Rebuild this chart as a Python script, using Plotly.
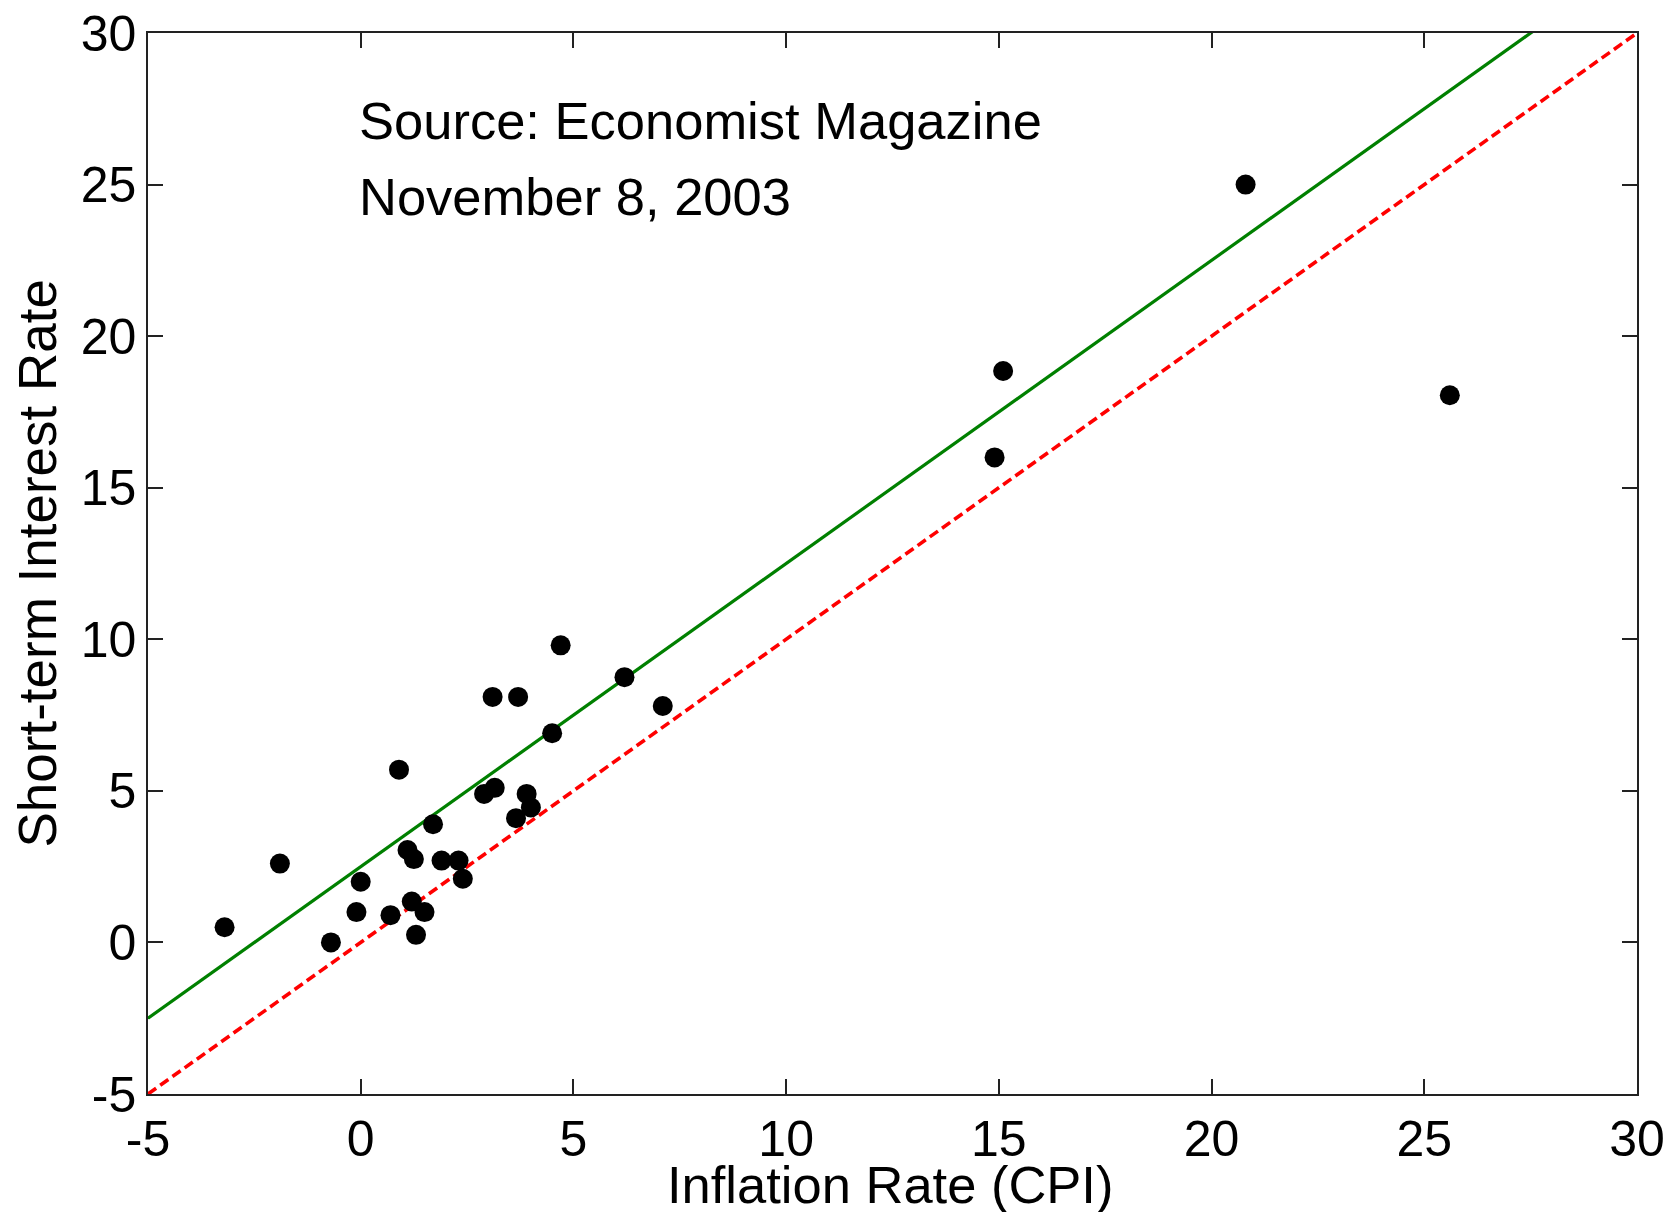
import plotly.graph_objects as go

# Data
inflation = [-3.2, -1.9, -0.7, -0.1, 0.0, 0.7, 0.9, 1.1, 1.25, 1.2, 1.3, 1.5, 1.7, 1.9, 2.3, 2.4,
             2.9, 3.15, 3.1, 3.7, 3.65, 3.9, 4.0, 4.5, 4.7, 6.2, 7.1, 14.9, 15.1, 20.8, 25.6]
interest = [0.5, 2.6, 0.0, 1.0, 2.0, 0.9, 5.7, 3.05, 2.75, 1.35, 0.25, 1.0, 3.9, 2.7, 2.7, 2.1,
            4.9, 5.1, 8.1, 8.1, 4.1, 4.9, 4.45, 6.9, 9.8, 8.75, 7.8, 16.0, 18.85, 25.0, 18.05]

line_x = [-5, 30]
fit_y = [-2.5, 32.5]      # fitted line, y = x + 2.5
parity_y = [-5, 30]       # y = x

tick_vals = [-5, 0, 5, 10, 15, 20, 25, 30]
tick_text = ["-5", "0", "5", "10", "15", "20", "25", "30"]

FONT = "Liberation Sans, Arial, sans-serif"

fig = go.Figure()
fig.add_trace(go.Scatter(x=line_x, y=fit_y, mode="lines",
                         line=dict(color="#008000", width=3.2)))
fig.add_trace(go.Scatter(x=line_x, y=parity_y, mode="lines",
                         line=dict(color="#ff0000", width=3.6, dash="10px,5px")))
fig.add_trace(go.Scatter(x=inflation, y=interest, mode="markers",
                         marker=dict(color="black", size=20, line=dict(width=0))))

axis_common = dict(
    range=[-5, 30], tickvals=tick_vals, ticktext=tick_text,
    showgrid=False, zeroline=False, showline=True, linecolor="#222222", linewidth=1.5,
    mirror="allticks", ticks="inside", ticklen=15, tickwidth=1.5, tickcolor="#222222",
    tickfont=dict(family=FONT, size=50, color="black"),
    ticklabeloverflow="allow", automargin=False,
)

fig.update_layout(
    width=1657, height=1204,
    paper_bgcolor="white", plot_bgcolor="white",
    showlegend=False,
    margin=dict(l=140, r=28, t=25, b=118),
    xaxis=dict(**axis_common),
    yaxis=dict(**axis_common),
    font=dict(family=FONT, color="black"),
    annotations=[
        dict(x=0, y=27.1, xref="x", yref="y", xshift=-4, text="Source: Economist Magazine",
             showarrow=False, xanchor="left", yanchor="middle",
             font=dict(family=FONT, size=52.5, color="black")),
        dict(x=0, y=24.6, xref="x", yref="y", xshift=-4, text="November 8, 2003",
             showarrow=False, xanchor="left", yanchor="middle",
             font=dict(family=FONT, size=52.5, color="black")),
        dict(x=0.5, y=0, xref="paper", yref="paper", yshift=-90, xshift=-3,
             text="Inflation Rate (CPI)", showarrow=False,
             xanchor="center", yanchor="middle",
             font=dict(family=FONT, size=52.5, color="black")),
        dict(x=0, y=0.5, xref="paper", yref="paper", xshift=-111,
             text="Short-term Interest Rate", showarrow=False, textangle=-90,
             xanchor="center", yanchor="middle",
             font=dict(family=FONT, size=53, color="black")),
    ],
)

fig.write_html("out.html")
